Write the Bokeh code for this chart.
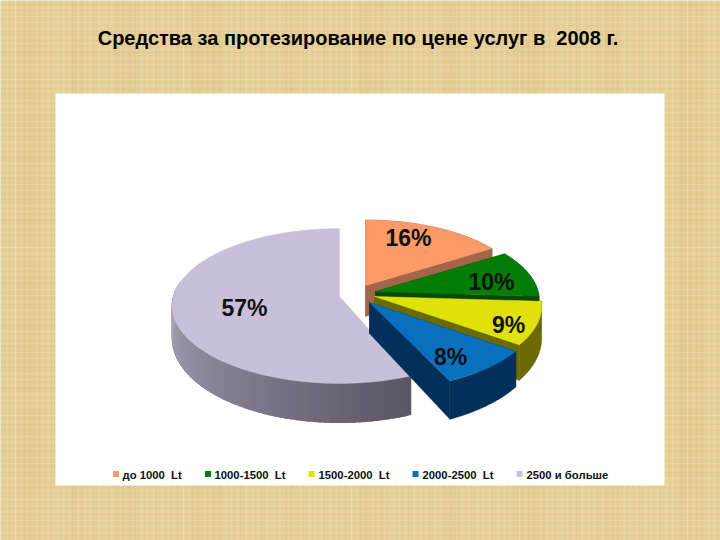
import math
from bokeh.plotting import figure
from bokeh.models import Range1d
from bokeh.core.properties import value
from bokeh.embed import file_html
from bokeh.resources import INLINE

NB = "\u00a0"
title = f"Средства за протезирование по цене услуг в{NB}{NB}2008 г."
categories = [f"до 1000{NB}{NB}Lt", f"1000-1500{NB}{NB}Lt", f"1500-2000{NB}{NB}Lt", f"2000-2500{NB}{NB}Lt", "2500 и больше"]
percent = [16, 10, 9, 8, 57]
top_colors = ["#FC9A68", "#047D06", "#E0E00A", "#0A70BE", "#C8C0DA"]
side_colors = ["#A3664B", "#034A04", "#6A6A00", "#00305A", "#8A8395"]

W, H = 720, 540
p = figure(width=W, height=H, output_backend="svg", toolbar_location=None,
           x_range=Range1d(0, 720), y_range=Range1d(540, 0),
           min_border=0, outline_line_color=None, background_fill_color="#E5D098",
           border_fill_color="#E5D098")
p.axis.visible = False
p.grid.visible = False

# soft blotches of the paper backdrop
band_x = [30, 78, 125, 205, 290, 370, 450, 530, 610, 690]
band_y = [20, 70, 500, 525, 110, 250, 400]
band_w = [26, 14, 20, 34, 12, 28, 18, 30, 16, 24]
for x_, w_, in zip(band_x, band_w):
    p.line([x_, x_], [0, 540], line_color="#D3B877", line_width=w_, line_alpha=0.16)
for y_, w_ in zip(band_y, band_w):
    p.line([0, 720], [y_, y_], line_color="#F2E4BA", line_width=w_, line_alpha=0.10)

# woven thread lines
tones = ["#F0E2B6", "#DCC286", "#EBD9A6", "#D6BC80", "#E1CB92", "#F3E6BE", "#DFC88E"]
for i, c in enumerate(tones):
    xs = list(range(i * 3, 720, 3 * len(tones)))
    ys = list(range(i * 3 + 1, 540, 3 * len(tones)))
    p.multi_line([[x, x] for x in xs] + [[0, 720] for _ in ys],
                 [[0, 540] for _ in xs] + [[y, y] for y in ys],
                 line_color=c, line_width=1, line_alpha=0.32)

# white chart area
p.quad(left=[55], right=[664], top=[93], bottom=[485], fill_color="#FFFFFF", line_color=None)

# 3D pie projection
RX, RY, K = 166, 76.3, 0.1225
DEPTH0, DEPTH1 = 31, 8
apexes = [(365, 285), (375, 291), (374, 296), (369, 302), (339, 296)]
radii = [0.96, 0.98, 1.0, 1.01, 1.0]
start_gap = [0, 0, 0, 0, 0.05]  # radians trimmed from the start of a slice


def proj(ap, r, th, low=False):
    u, v = r * math.sin(th), r * math.cos(th)
    w = 1 + K * v
    y = ap[1] - RY * v / w
    if low:
        y += DEPTH0 - DEPTH1 * v
    return ap[0] + RX * u / w, y


starts = []
acc = 0
for v_ in percent:
    starts.append((acc, acc + v_))
    acc += v_
ang = lambda pc: pc * 2 * math.pi / 100


def poly(pts, color, lw=0.4):
    p.patch([q[0] for q in pts], [q[1] for q in pts], fill_color=color, line_color=color, line_width=lw)


def draw_slice(i):
    ap, rad = apexes[i], radii[i]
    a0, a1 = ang(starts[i][0]) + start_gap[i], ang(starts[i][1])
    n = 60
    top = [proj(ap, rad, a0 + (a1 - a0) * k / n) for k in range(n + 1)]
    low = [proj(ap, rad, a0 + (a1 - a0) * k / n, True) for k in range(n + 1)]
    c0, c1 = (ap[0], ap[1]), (ap[0], ap[1] + DEPTH0)
    if i == 4:
        m = 70
        a_end = min(a1, ang(78))
        for j in range(m):
            b0 = a0 + (a_end - a0) * j / m
            b1 = a0 + (a_end - a0) * (j + 1) / m
            t = j / (m - 1)
            r = int(92 + (176 - 92) * t)
            g = int(85 + (170 - 85) * t)
            b = int(102 + (190 - 102) * t)
            col = f"#{r:02x}{g:02x}{b:02x}"
            poly([proj(ap, rad, b0), proj(ap, rad, b1 + 0.01), proj(ap, rad, b1 + 0.01, True), proj(ap, rad, b0, True)], col, 1.2)
    else:
        poly([c0, c1, low[0], top[0]], side_colors[i])
        poly([c0, c1, low[-1], top[-1]], side_colors[i])
        poly(top + low[::-1], side_colors[i])
    poly([c0] + top, top_colors[i])


for i in [4, 0, 1, 2, 3]:
    draw_slice(i)

# percentage labels
label_x = [408, 491, 508, 450, 244]
label_y = [237, 281, 324, 356, 307]
p.text(label_x, label_y, text=[f"{v_}%" for v_ in percent], text_font=value("Liberation Sans"),
       text_font_size="23px", text_font_style="bold", text_color="#111111",
       text_align="center", text_baseline="middle")

# legend
sw_x = [115.5, 207.5, 311, 415, 519]
tx_x = [122, 214, 318, 422, 526]
p.rect(sw_x, [473.5] * 5, width=6, height=6, width_units="screen", height_units="screen",
       fill_color=top_colors, line_color=None)
p.text(tx_x, [474] * 5, text=categories, text_font=value("Liberation Sans"), text_font_size="11.3px",
       text_font_style="bold", text_color="#111111", text_baseline="middle")

# title
p.text([357.5], [37], text=[title], text_font=value("Liberation Sans"), text_font_size="20px",
       text_font_style="bold", text_color="#000000", text_align="center", text_baseline="middle")

open("out.html", "w").write(file_html(p, INLINE))
